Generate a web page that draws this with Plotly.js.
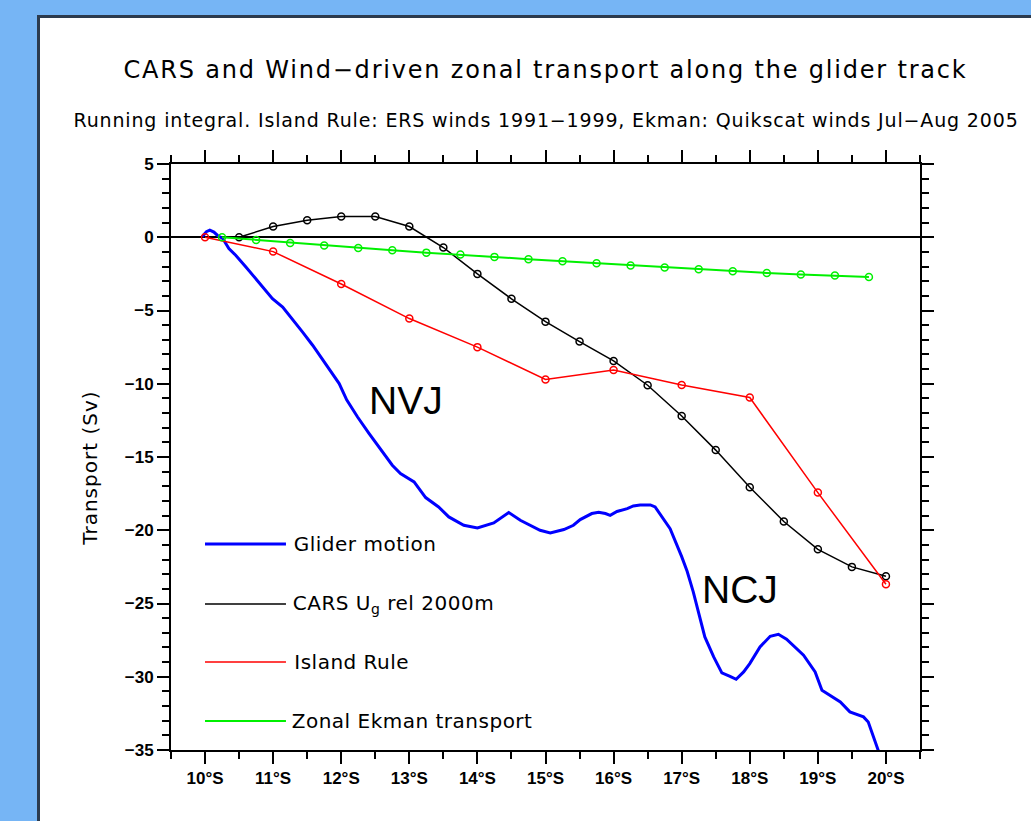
<!DOCTYPE html>
<html><head><meta charset="utf-8">
<script src="https://cdn.plot.ly/plotly-3.0.1.min.js"></script>
<style>
html,body{margin:0;padding:0;width:1031px;height:821px;overflow:hidden;background:#76b5f5;}
#panel{position:absolute;left:37px;top:15px;width:1100px;height:900px;background:#fff;border-left:3px solid #2c3b4e;border-top:3px solid #2c3b4e;}
#chart{position:absolute;left:0;top:0;width:1031px;height:821px;}
#chart .gtitle{letter-spacing:1.8px;}
#chart g.annotation[data-index="6"] text{letter-spacing:0.85px;}
#chart g.annotation[data-index="7"] text{letter-spacing:1px;}
#chart g.annotation[data-index="0"] text,
#chart g.annotation[data-index="1"] text,
#chart g.annotation[data-index="2"] text,
#chart g.annotation[data-index="3"] text{letter-spacing:0.5px;}
</style></head><body><div id="panel"></div><div id="chart"></div>
<script>
// Latitudes in degrees South
var gliderLat = [9.96, 10.02, 10.07, 10.13, 10.18, 10.26, 10.35, 10.45, 10.6, 10.74, 10.89, 10.99, 11.14, 11.28, 11.43, 11.58, 11.72, 11.84, 11.97, 12.08, 12.24, 12.41, 12.6, 12.75, 12.87, 13.07, 13.24, 13.43, 13.58, 13.8, 14.0, 14.24, 14.46, 14.63, 14.92, 15.07, 15.27, 15.41, 15.51, 15.68, 15.78, 15.88, 15.95, 16.05, 16.2, 16.29, 16.39, 16.54, 16.61, 16.71, 16.83, 17.0, 17.08, 17.17, 17.34, 17.47, 17.59, 17.71, 17.8, 17.91, 18.0, 18.15, 18.3, 18.42, 18.54, 18.79, 18.96, 19.06, 19.18, 19.33, 19.47, 19.67, 19.74, 19.88, 19.93];
var gliderTransport = [0.05, 0.38, 0.48, 0.35, 0.14, -0.09, -0.77, -1.23, -2.03, -2.82, -3.62, -4.19, -4.76, -5.55, -6.46, -7.37, -8.28, -9.08, -9.99, -11.1, -12.27, -13.4, -14.65, -15.56, -16.13, -16.7, -17.77, -18.41, -19.09, -19.66, -19.84, -19.5, -18.79, -19.32, -20.0, -20.18, -19.95, -19.66, -19.27, -18.86, -18.77, -18.86, -18.98, -18.72, -18.52, -18.34, -18.27, -18.27, -18.41, -19.09, -19.89, -21.8, -22.8, -24.2, -27.28, -28.65, -29.74, -29.97, -30.17, -29.67, -29.1, -27.96, -27.24, -27.1, -27.44, -28.53, -29.67, -30.92, -31.26, -31.72, -32.4, -32.74, -33.09, -35.0, -35.6];

var carsLat = [10.5, 11, 11.5, 12, 12.5, 13, 13.5, 14, 14.5, 15, 15.5, 16, 16.5, 17, 17.5, 18, 18.5, 19, 19.5, 20];
var carsTransport = [0.0, 0.73, 1.16, 1.41, 1.41, 0.73, -0.70, -2.5, -4.2, -5.76, -7.12, -8.44, -10.1, -12.2, -14.53, -17.06, -19.4, -21.3, -22.5, -23.14];

var islandLat = [10, 11, 12, 13, 14, 15, 16, 17, 18, 19, 20];
var islandTransport = [0.0, -0.98, -3.19, -5.55, -7.5, -9.71, -9.06, -10.08, -10.94, -17.43, -23.69];

var ekmanLat = [10.25, 10.75, 11.25, 11.75, 12.25, 12.75, 13.25, 13.75, 14.25, 14.75, 15.25, 15.75, 16.25, 16.75, 17.25, 17.75, 18.25, 18.75, 19.25, 19.75];
var ekmanTransport = [0.0, -0.18, -0.39, -0.57, -0.73, -0.89, -1.05, -1.18, -1.34, -1.50, -1.64, -1.77, -1.93, -2.07, -2.18, -2.32, -2.44, -2.55, -2.61, -2.71];

var xTickVals = [10, 11, 12, 13, 14, 15, 16, 17, 18, 19, 20];
var xTickText = ["10°S", "11°S", "12°S", "13°S", "14°S", "15°S", "16°S", "17°S", "18°S", "19°S", "20°S"];

var seriesNames = ["Glider motion", "CARS U<sub>g</sub> rel 2000m", "Island Rule", "Zonal Ekman transport"];
var seriesColors = ["#0000ff", "#000000", "#ff0000", "#00f000"];
var seriesWidths = [3, 1.5, 1.5, 2];

var txtFont = "DejaVu Sans, Verdana, sans-serif";
var tickFont = "Liberation Sans, Arial, Helvetica, sans-serif";

var traces = [
  {x: gliderLat, y: gliderTransport, mode: "lines", line: {color: seriesColors[0], width: seriesWidths[0]}, showlegend: false, name: seriesNames[0]},
  {x: carsLat, y: carsTransport, mode: "lines+markers", line: {color: seriesColors[1], width: seriesWidths[1]}, marker: {symbol: "circle-open", size: 7, color: seriesColors[1], line: {width: 1.5}}, showlegend: false, name: seriesNames[1]},
  {x: islandLat, y: islandTransport, mode: "lines+markers", line: {color: seriesColors[2], width: seriesWidths[2]}, marker: {symbol: "circle-open", size: 7, color: seriesColors[2], line: {width: 1.5}}, showlegend: false, name: seriesNames[2]},
  {x: ekmanLat, y: ekmanTransport, mode: "lines+markers", line: {color: seriesColors[3], width: seriesWidths[3]}, marker: {symbol: "circle-open", size: 7, color: seriesColors[3], line: {width: 1.5}}, showlegend: false, name: seriesNames[3]}
];

// manual legend
var legY = [0.3515, 0.2491, 0.1502, 0.0495];
var shapes = [];
var annotations = [];
for (var i = 0; i < seriesNames.length; i++) {
  shapes.push({type: "line", xref: "paper", yref: "paper", x0: 0.0454, x1: 0.1535, y0: legY[i], y1: legY[i], line: {color: seriesColors[i], width: seriesWidths[i]}});
  annotations.push({xref: "paper", yref: "paper", x: 0.1660, y: legY[i], xanchor: "left", yanchor: "middle", showarrow: false, text: seriesNames[i], font: {family: txtFont, size: 20, color: "#000"}});
}
annotations.push({xref: "paper", yref: "paper", x: 0.3138, y: 0.5956, xanchor: "center", yanchor: "middle", showarrow: false, text: "NVJ", font: {family: tickFont, size: 39, color: "#000"}});
annotations.push({xref: "paper", yref: "paper", x: 0.7593, y: 0.2747, xanchor: "center", yanchor: "middle", showarrow: false, text: "NCJ", font: {family: tickFont, size: 39, color: "#000"}});
annotations.push({xref: "paper", yref: "paper", x: 0.5, y: 1.075, xanchor: "center", yanchor: "middle", showarrow: false, text: "Running integral. Island Rule: ERS winds 1991−1999, Ekman: Quikscat winds Jul−Aug 2005", font: {family: txtFont, size: 19, color: "#000"}});
annotations.push({xref: "paper", yref: "paper", x: -0.108, y: 0.48, xanchor: "center", yanchor: "middle", textangle: -90, showarrow: false, text: "Transport (Sv)", font: {family: txtFont, size: 20, color: "#000"}});

var axisCommon = {
  showline: true, linecolor: "#000", linewidth: 2, mirror: "allticks",
  ticks: "outside", ticklen: 12, tickwidth: 2, tickcolor: "#000",
  showgrid: false,
  tickfont: {family: tickFont, size: 17, color: "#000", weight: 700}
};

var layout = {
  width: 1031, height: 821,
  paper_bgcolor: "rgba(0,0,0,0)", plot_bgcolor: "rgba(0,0,0,0)",
  margin: {l: 171, r: 111, t: 164, b: 71},
  title: {text: "CARS and Wind−driven zonal transport along the glider track", x: 0.5, xref: "paper", y: 1 - 70/821, yref: "container", yanchor: "middle", font: {family: txtFont, size: 24, color: "#000"}},
  xaxis: Object.assign({}, axisCommon, {range: [9.5, 20.5], tickmode: "array", tickvals: xTickVals, ticktext: xTickText, zeroline: false,
    minor: {dtick: 0.5, tick0: 0, ticks: "outside", ticklen: 7, tickwidth: 2, tickcolor: "#000", showgrid: false}}),
  yaxis: Object.assign({}, axisCommon, {range: [-35, 5], dtick: 5, tick0: 0, zeroline: true, zerolinecolor: "#000", zerolinewidth: 2,
    minor: {dtick: 1, tick0: 0, ticks: "outside", ticklen: 7, tickwidth: 2, tickcolor: "#000", showgrid: false}}),
  shapes: shapes,
  annotations: annotations,
  showlegend: false
};

Plotly.newPlot("chart", traces, layout, {displayModeBar: false, staticPlot: true});
</script></body></html>
